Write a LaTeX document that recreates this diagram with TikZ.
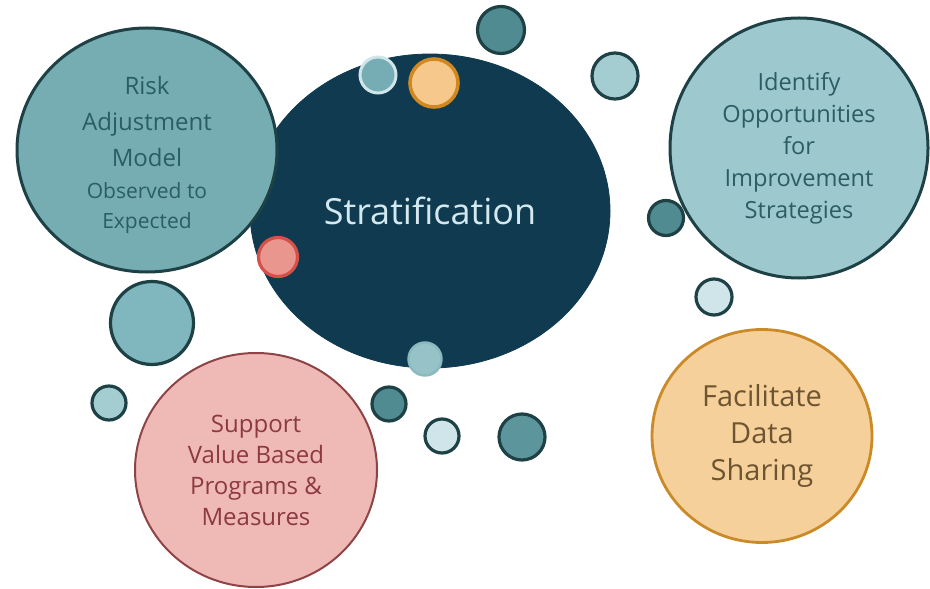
\documentclass[tikz,border=0pt]{standalone}
\usepackage{fontspec}
\setmainfont{Open Sans}
\usetikzlibrary{shapes.geometric}

\definecolor{navy}{HTML}{0F3A4F}
\definecolor{stratxt}{HTML}{D3E8EF}
\definecolor{edge}{HTML}{1E4146}
\definecolor{riskfill}{HTML}{76ADB3}
\definecolor{risktxt}{HTML}{2A5D65}
\definecolor{idfill}{HTML}{9CC8CE}
\definecolor{idtxt}{HTML}{2D5C64}
\definecolor{suppfill}{HTML}{EFB9B6}
\definecolor{suppedge}{HTML}{8E4446}
\definecolor{supptxt}{HTML}{8C3A40}
\definecolor{sharefill}{HTML}{F6D09A}
\definecolor{shareedge}{HTML}{C98A27}
\definecolor{sharetxt}{HTML}{6E5531}
\definecolor{tealdk}{HTML}{4F8B91}
\definecolor{teallt}{HTML}{A4CDD2}
\definecolor{tealmid}{HTML}{80B6BD}
\definecolor{pale}{HTML}{CFE5E9}
\definecolor{dotred}{HTML}{E9968F}
\definecolor{dotrededge}{HTML}{D6504A}

\begin{document}
\begin{tikzpicture}[x=0.5pt,y=-0.5pt,
  bigbub/.style={ellipse, draw, inner sep=0pt, align=center},
  bub/.style={circle, draw=edge, line width=1.6pt, inner sep=0pt}]
  \useasboundingbox (0,0) rectangle (930,588);

  % Centro
  \node[bigbub, fill=navy, draw=navy, minimum width=180pt, minimum height=157pt,
    text=stratxt, font=\fontsize{18}{22}\selectfont] (strat) at (430,211) {Stratification};

  % Burbujas grandes
  \node[bigbub, fill=riskfill, draw=edge, line width=1.5pt, minimum width=130pt,
    minimum height=122pt, text=risktxt, font=\fontsize{12}{18}\selectfont] (risk) at (147,150) {};
  \node[text=risktxt, align=center, font=\fontsize{12}{18}\selectfont] (risktext) at (147,155)
    {Risk\\Adjustment\\Model\\[-2pt]
     \fontsize{10.5}{15}\selectfont Observed to\\[-3pt]
     \fontsize{10.5}{15}\selectfont Expected};
  \node[bigbub, fill=idfill, draw=edge, line width=1.5pt, minimum width=129pt,
    minimum height=130pt, text=idtxt, font=\fontsize{11.8}{16}\selectfont] (identify) at (799,148)
    {Identify\\Opportunities\\for\\Improvement\\Strategies};
  \node[bigbub, fill=suppfill, draw=suppedge, line width=1pt, minimum width=121pt,
    minimum height=117pt, text=supptxt, font=\fontsize{12}{15.5}\selectfont] (support) at (256,470)
    {Support\\Value Based\\Programs \&\\Measures};
  \node[bigbub, fill=sharefill, draw=shareedge, line width=1.4pt, minimum width=110pt,
    minimum height=106.5pt, text=sharetxt, font=\fontsize{14.5}{18.5}\selectfont] (share) at (762,436)
    {Facilitate\\Data\\Sharing};

  % Burbujas sobre el centro
  \node[bub, fill=tealmid!80!tealdk, draw=pale, line width=1.5pt, minimum size=18pt] (dotA) at (378,75) {};
  \node[bub, fill=sharefill!90!orange, draw=shareedge!85!orange, line width=1.8pt, minimum size=24pt] (dotB) at (434,83) {};
  \node[bub, fill=dotred, draw=dotrededge, line width=1.6pt, minimum size=19.5pt] (dotC) at (278,257) {};
  \node[bub, fill=teallt!85!tealdk, draw=teallt!70!tealdk, line width=1.2pt, minimum size=16.5pt] (dotD) at (425,359) {};

  % Burbujas sueltas
  \foreach \x/\y/\d/\f [count=\i] in {501/30/23.5/tealdk, 615/76/23/teallt, 666/218/17.5/tealdk,
      714/297/18/pale, 152/323/41.5/tealmid, 109/403/17/teallt, 389/404/17/tealdk,
      442/436/17/pale, 522/437/23/tealdk!85!teallt} {
    \node[bub, fill=\f, minimum size=\d pt] (dot\i) at (\x,\y) {};
  }
\end{tikzpicture}
\end{document}
